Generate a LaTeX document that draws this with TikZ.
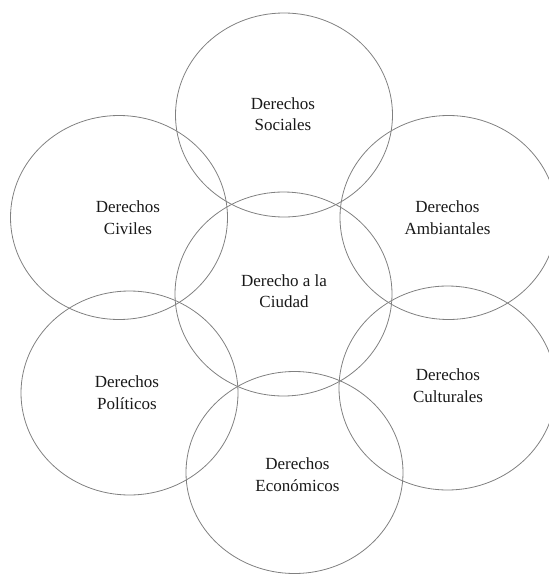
\documentclass[tikz,border=0pt]{standalone}
\usepackage{fontspec}
\setmainfont{Liberation Serif}
\tikzset{
  ring/.style={line width=0.8pt, color=black!50},
  rlabel/.style={align=center, font=\fontsize{17}{21.5}\selectfont, text=black!90}
}

\begin{document}
\begin{tikzpicture}[x=1pt,y=-1pt]
		%%%%% START %%%%%
		\useasboundingbox (0,0) rectangle (549,574);
		
		\draw[ring] (284,115) ellipse [x radius=108.5pt, y radius=102pt];
		\draw[ring] (119,217.5) ellipse [x radius=108.5pt, y radius=102pt];
		\draw[ring] (448.5,217.5) ellipse [x radius=108.5pt, y radius=102pt];
		\draw[ring] (283.5,294) ellipse [x radius=108.5pt, y radius=102pt];
		\draw[ring] (129.5,393) ellipse [x radius=108.5pt, y radius=102pt];
		\draw[ring] (447.5,388) ellipse [x radius=108.5pt, y radius=102pt];
		\draw[ring] (294.5,472.5) ellipse [x radius=108.5pt, y radius=101pt];
		
		\node[rlabel] (sociales) at (283,114) {Derechos\\Sociales};
		\node[rlabel] (civiles) at (128,217.5) {Derechos\\Civiles};
		\node[rlabel] (ambiantales) at (447.5,217.5) {Derechos\\Ambiantales};
		\node[rlabel] (ciudad) at (284,291) {Derecho a la\\Ciudad};
		\node[rlabel] (politicos) at (127,392.5) {Derechos\\Políticos};
		\node[rlabel] (culturales) at (448,385.5) {Derechos\\Culturales};
		\node[rlabel] (economicos) at (297.5,474.5) {Derechos\\Económicos};
		
		%%%%% END %%%%%
\end{tikzpicture}
\end{document}
